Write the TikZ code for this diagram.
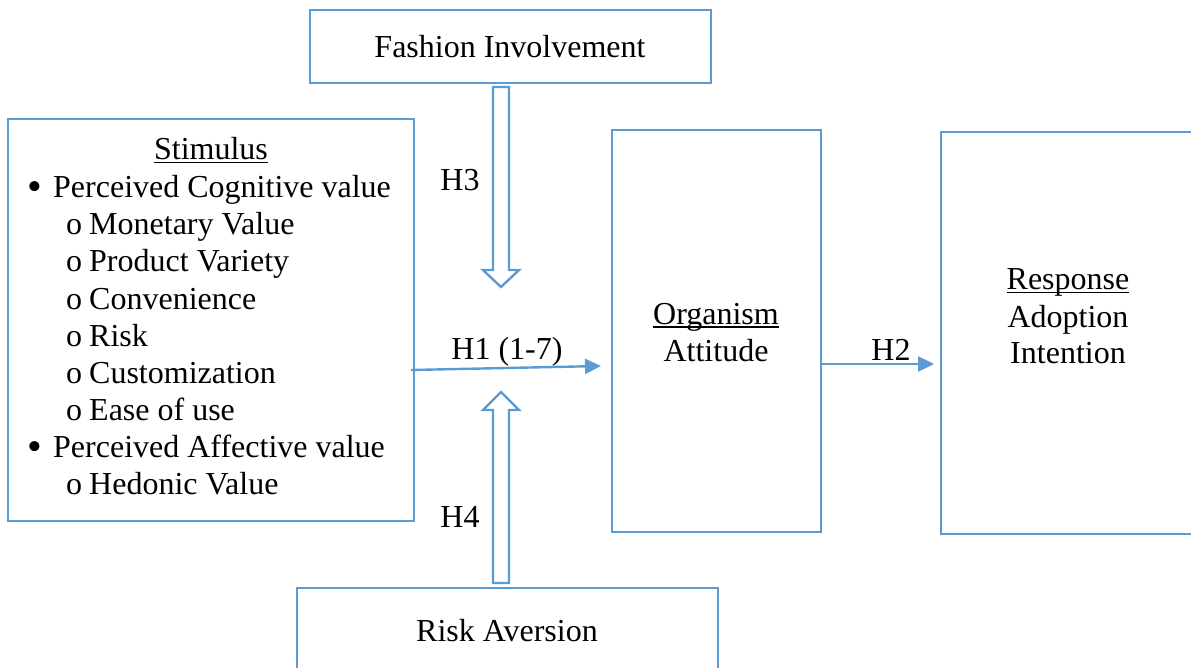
\documentclass[tikz,border=0pt]{standalone}
\usepackage{fontspec}
\setmainfont{Liberation Serif}
\usetikzlibrary{arrows.meta}
\definecolor{boxblue}{HTML}{5B9BD5}
\newcommand\myul[1]{\setbox0\hbox{#1}\rlap{\rule[-3.5pt]{\wd0}{1.6pt}}\box0}
\tikzset{
  box/.style={draw=boxblue, line width=2.4pt, inner sep=0pt, fill=white},
  txt/.style={inner sep=0pt, anchor=base, font=\fontsize{32}{37}\selectfont},
  ltxt/.style={inner sep=0pt, anchor=base west, font=\fontsize{32}{37}\selectfont},
  conn/.style={draw=boxblue, line width=2.4pt, -{Triangle[length=16pt,width=15pt]}},
  hollow/.style={draw=boxblue, line width=2.4pt, fill=white, line join=miter},
}
\begin{document}
\begin{tikzpicture}[x=1pt,y=-1pt]
\useasboundingbox (0,0) rectangle (1191,668);
% boxes
\node[box, minimum width=401pt, minimum height=73pt] (fash) at (510.5,46.5) {};
\node[box, minimum width=406pt, minimum height=402pt] (stim) at (211,320) {};
\node[box, minimum width=209pt, minimum height=402pt] (org) at (716.5,331) {};
\node[box, minimum width=262pt, minimum height=402pt] (resp) at (1072,333) {};
\node[box, minimum width=421pt, minimum height=100pt] (risk) at (507.5,638) {};
% box texts
\node[txt] (fashT) at (510,58) {Fashion Involvement};
\node[txt] (riskT) at (507,641) {Risk Aversion};
\node[txt] (orgT1) at (716,324) {\myul{Organism}};
\node[txt] (orgT2) at (716,361) {Attitude};
\node[txt] (respT1) at (1068,290) {\myul{Response}};
\node[txt] (respT2) at (1068,327) {Adoption};
\node[txt] (respT3) at (1068,363) {Intention};
% stimulus list
\node[txt] (stimT) at (211,160) {\myul{Stimulus}};
\node[ltxt, font=\fontsize{42}{37}\selectfont] (b1) at (27,201) {•};
\node[ltxt] (l1) at (53,198) {Perceived Cognitive value};
\node[ltxt] (s1) at (66,235) {o};
\node[ltxt] (l2) at (89,235) {Monetary Value};
\node[ltxt] (s2) at (66,272) {o};
\node[ltxt] (l3) at (89,272) {Product Variety};
\node[ltxt] (s3) at (66,309) {o};
\node[ltxt] (l4) at (89,309) {Convenience};
\node[ltxt] (s4) at (66,346) {o};
\node[ltxt] (l5) at (89,346) {Risk};
\node[ltxt] (s5) at (66,383) {o};
\node[ltxt] (l6) at (89,383) {Customization};
\node[ltxt] (s6) at (66,420) {o};
\node[ltxt] (l7) at (89,420) {Ease of use};
\node[ltxt, font=\fontsize{42}{37}\selectfont] (b2) at (27,460) {•};
\node[ltxt] (l8) at (53,457) {Perceived Affective value};
\node[ltxt] (s7) at (66,494) {o};
\node[ltxt] (l9) at (89,494) {Hedonic Value};
% hollow arrows
\draw[hollow] (493,87) -- (509,87) -- (509,270) -- (519,270) -- (501,287) -- (483,270) -- (493,270) -- cycle;
\draw[hollow] (493,583) -- (509,583) -- (509,410) -- (519,410) -- (501,392) -- (483,410) -- (493,410) -- cycle;
\node[txt] (h3) at (460,191) {H3};
\node[txt] (h4) at (460,527) {H4};
% connectors
\coordinate (h1s) at (411,370);
\coordinate (h1e) at (601,366);
\draw[conn] (h1s) -- (h1e);
\node[txt] (h1) at (507,359) {H1 (1-7)};
\coordinate (h2e) at (934,364);
\draw[conn] (org.east |- h2e) -- (h2e);
\node[txt] (h2) at (891,360) {H2};
\end{tikzpicture}
\end{document}
